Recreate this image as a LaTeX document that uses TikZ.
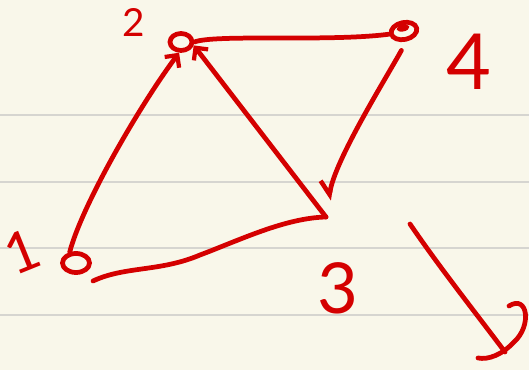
\documentclass[tikz,border=0pt]{standalone}
\usepackage{fontspec}
\setmainfont{Lato}
\usetikzlibrary{shapes.geometric,arrows.meta}
\definecolor{paper}{HTML}{F9F7EA}
\definecolor{rulegray}{HTML}{D6D5D0}
\definecolor{inkred}{HTML}{D40000}
\begin{document}
\begin{tikzpicture}[x=0.01cm,y=-0.01cm,
  inkline/.style={draw=inkred, line width=1.35pt, line cap=round, line join=round},
  vtx/.style={inkline, ellipse, inner sep=0pt},
  lbl/.style={text=inkred, inner sep=0pt},
  tipfull/.style={-{Straight Barb[length=0.9mm,width=1.8mm,line width=1.2pt]}},
  tiphalf/.style={-{Straight Barb[right,length=1.2mm,width=2.2mm,line width=1.3pt]}}]
  \fill[paper] (0,0) rectangle (529,370);
  \useasboundingbox (0,0) rectangle (529,370);
  \foreach \yy in {115,182,248,315}
    \draw[rulegray, line width=0.6pt] (0,\yy) -- (529,\yy);

  % vertices
  \node[vtx, minimum width=0.22cm, minimum height=0.17cm] (v2) at (181,42) {};
  \node[vtx, minimum width=0.26cm, minimum height=0.17cm, rotate=12] (v4) at (404,31) {};
  \fill[inkred, rotate around={12:(403,28)}] (403,28) ellipse [x radius=0.065cm, y radius=0.035cm];
  \node[vtx, minimum width=0.27cm, minimum height=0.19cm] (v1) at (76,263) {};
  \coordinate (v3) at (326,217);

  % labels
  \node[lbl, font=\fontsize{11}{11}\selectfont] (l2) at (134,22) {2};
  \node[lbl, font=\fontsize{16}{16}\selectfont, rotate=22] (l1) at (22,252) {1};
  \node[lbl, font=\fontsize{20}{20}\selectfont] (l3) at (338,288) {3};
  \node[lbl, font=\fontsize{22}{22}\selectfont] (l4) at (469,62) {4};

  % edges
  \draw[inkline, tipfull] (v1.120) .. controls (82,205) and (140,105) .. (v2.-100);
  \draw[inkline, tipfull] (v3) -- (v2.-15);
  \draw[inkline] (v2.east) .. controls (215,34) and (330,42) .. (v4.west);
  \draw[inkline, tiphalf, shorten <=0.1cm, shorten >=0.17cm] (v4.south) .. controls (385,80) and (335,160) .. (v3);
  \coordinate (s13) at (93,281);
  \draw[inkline] (s13) .. controls (125,266) and (160,272) .. (200,255) .. controls (240,240) and (285,218) .. (v3);

  % arrow at lower right
  \coordinate (a0) at (410,224);
  \coordinate (a1) at (505,352);
  \draw[inkline] (a0) .. controls (440,268) and (475,312) .. (a1);
  \draw[inkline] (509,306) .. controls (528,294) and (532,326) .. (514,342) .. controls (502,355) and (488,360) .. (478,358);
\end{tikzpicture}
\end{document}
